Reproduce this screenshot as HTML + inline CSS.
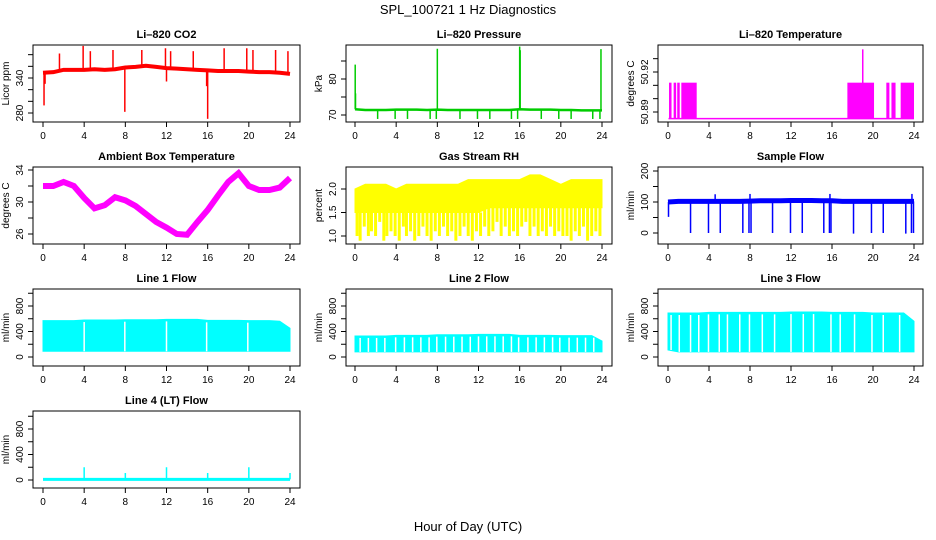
<!DOCTYPE html>
<html><head><meta charset="utf-8"><style>
body{margin:0;background:#fff}
svg{display:block;font-family:"Liberation Sans",sans-serif}
</style></head><body>
<svg id="c" width="936" height="540" viewBox="0 0 936 540">
<text x="468" y="14" text-anchor="middle" font-size="13">SPL_100721  1 Hz Diagnostics</text>
<text x="468" y="531" text-anchor="middle" font-size="13">Hour of Day (UTC)</text>
</svg>
<script>
// ---- data ----
const hours = [0,1,2,3,4,5,6,7,8,9,10,11,12,13,14,15,16,17,18,19,20,21,22,23,24];
const xTicks = [0,4,8,12,16,20,24];
// CO2
const co2Base = [349,350,354,354,354,355,354,355,358,359,361,359,357,356,355,354,353,352,352,352,351,350,350,349,347];
const co2SpikeHours = [1.6,3.9,4.6,6.8,9.6,11.9,12.4,14.6,17.6,19.8,20.4,22.6,23.8,0.1,7.95,16.0,12.0,15.9,0.2];
const co2SpikeVals = [382,395,386,388,388,391,386,386,391,391,388,388,386,293,282,270,334,326,330];
// Pressure
const presBase = [71.6,71.4,71.4,71.4,71.5,71.5,71.5,71.4,71.5,71.4,71.4,71.4,71.4,71.4,71.4,71.4,71.6,71.5,71.5,71.5,71.4,71.4,71.3,71.3,71.3];
const presSpikeHours = [0.02,0.05,8.0,16.0,16.05,23.9,2.2,3.9,5.1,7.3,7.9,10.2,11.9,13.1,15.2,15.8,18.1,19.8,21.0,23.1,23.8];
const presSpikeVals = [84,76,88.4,89,88,88.3,68.9,68.9,68.9,68.9,68.9,68.9,68.9,68.9,68.9,68.9,68.9,68.9,68.9,68.9,68.9];
// Li-820 temperature
const tempBaseVal = 50.885;
const tempOnStart = [0.1,0.55,0.9,1.3,17.5,21.3,21.8,22.7];
const tempOnEnd = [0.3,0.7,1.0,2.8,20.1,21.6,22.2,24.0];
const tempOnVal = [50.912,50.912,50.912,50.912,50.912,50.912,50.912,50.912];
const tempSpikeHours = [19.0];
const tempSpikeVals = [50.937];
// Ambient temperature
const ambBase = [32,32,32.5,32,30.5,29.2,29.6,30.6,30.2,29.5,28.5,27.5,26.8,26,25.9,27.5,29,30.8,32.5,33.6,32,31.5,31.5,31.8,33];
// RH
const rhHi = [2.0,2.1,2.1,2.1,2.0,2.1,2.1,2.1,2.1,2.1,2.1,2.2,2.2,2.2,2.2,2.2,2.2,2.3,2.3,2.2,2.1,2.2,2.2,2.2,2.2];
const rhSolidLo = [1.5,1.5,1.5,1.5,1.5,1.5,1.5,1.5,1.5,1.5,1.5,1.5,1.5,1.6,1.6,1.6,1.6,1.6,1.6,1.6,1.6,1.6,1.6,1.6,1.6];
const rhDipHours = [0.2,0.5,0.9,1.3,1.6,2.0,2.4,2.8,3.1,3.5,3.9,4.3,4.7,5.0,5.4,5.8,6.2,6.6,7.0,7.4,7.8,8.2,8.6,9.0,9.4,9.8,10.2,10.6,11.0,11.4,11.8,12.2,12.6,13.0,13.4,13.8,14.2,14.6,15.0,15.4,15.8,16.2,16.6,17.0,17.4,17.8,18.2,18.6,19.0,19.4,19.8,20.2,20.6,21.0,21.4,21.8,22.2,22.6,23.0,23.4,23.8];
const rhDipVals = [1.0,0.9,1.2,1.0,1.1,1.0,1.3,0.9,1.0,1.1,1.0,0.9,1.2,1.0,1.1,0.9,1.0,1.2,1.0,0.9,1.1,1.0,1.2,1.0,1.1,0.9,1.0,1.2,1.0,0.9,1.1,1.0,1.2,1.0,1.1,1.3,1.0,1.2,1.0,1.1,1.0,1.2,1.3,1.0,1.2,1.0,1.1,1.0,1.2,1.0,1.1,1.0,1.0,0.9,1.1,1.0,1.2,0.9,1.0,1.1,1.0];
// Sample flow
const sfBase = [100,102,102,102,102,102,102,102,103,104,104,104,105,105,105,104,104,102,102,102,102,102,102,102,102];
const sfSpikeHours = [2.2,3.95,5.1,7.3,7.9,8.1,10.2,11.95,13.1,15.2,15.75,15.9,18.1,19.85,21.0,23.2,23.75,23.95,0.05,4.6,8.0,15.8,23.8];
const sfSpikeVals = [0,0,0,0,0,0,0,0,0,0,0,0,-2,0,0,-2,0,0,52,125,126,126,126];
// Line flows
const l1Hi = [570,570,570,570,580,580,580,580,585,585,585,585,590,590,590,590,575,575,575,575,570,570,570,560,450];
const l1Lo = [90,90,90,90,90,90,90,90,90,90,90,90,90,90,90,90,90,90,90,90,90,90,90,90,90];
const l1Gaps = [4.0,7.95,12.0,15.9,19.9];
const l2Hi = [330,330,330,330,340,340,340,340,350,350,350,350,355,355,355,355,340,340,340,340,335,335,335,335,250];
const l2Lo = [80,80,80,80,80,80,80,80,80,80,80,80,80,80,80,80,80,80,80,80,80,80,80,80,80];
const l2Gaps = [0.5,1.3,2.1,2.9,3.95,4.8,5.6,6.4,7.2,7.95,8.8,9.6,10.4,11.2,12.0,12.8,13.6,14.4,15.2,15.9,16.8,17.6,18.4,19.2,19.9,20.8,21.6,22.4,23.2];
const l3Hi = [690,690,690,690,700,700,700,700,700,700,700,700,705,705,705,705,700,700,700,700,690,690,690,690,560];
const l3Lo = [110,80,80,80,80,80,80,80,80,80,80,80,80,80,80,80,80,80,80,80,80,80,80,80,80];
const l3Gaps = [0.3,1.1,2.2,3.0,3.95,5.0,5.8,7.0,7.95,9.2,10.4,12.0,13.2,14.2,15.9,16.8,18.2,19.9,21.0,22.6];
const l4Base = [10,10,10,10,10,10,10,10,10,10,10,10,10,10,10,10,10,10,10,10,10,10,10,10,10];
const l4SpikeHours = [4.0,8.0,12.0,16.0,20.0,24.0];
const l4SpikeVals = [200,110,200,110,200,110];

// ---- layout ----
const NS='http://www.w3.org/2000/svg';
const svg=document.getElementById('c');
const cols=[{l:33,r:300,x0:43,x24:290},{l:346,r:612,x0:355,x24:602},{l:658,r:923,x0:668,x24:914}];
function mk(tag,attrs,parent){const e=document.createElementNS(NS,tag);for(const k in attrs)e.setAttribute(k,attrs[k]);(parent||svg).appendChild(e);return e;}

function panel(col,row,title,name,ylab,ticks,labels,v1,p1,v2,p2){
  const c=cols[col]; const top=45+122*row; const bot=top+77;
  const g=mk('g',{});
  
  
  const X=h=>c.x0+(c.x24-c.x0)*h/24;
  const Y=v=>p1+(p2-p1)*(v-v1)/(v2-v1);
  const t=mk('text',{x:(c.l+c.r)/2,y:top-7,'text-anchor':'middle','font-size':11,'font-weight':'bold'},g);
  t.textContent=title;
  
  
  const marks=mk('g',{},g);
  
  
  const box=mk('rect',{x:c.l,y:top,width:c.r-c.l,height:bot-top,fill:'none',stroke:'#000','stroke-width':1},g);
  
  
  const ax=mk('g',{stroke:'#000','stroke-width':1},g);
  
  
  xTicks.forEach(h=>{mk('line',{x1:X(h),x2:X(h),y1:bot,y2:bot+5},ax);
    const tx=mk('text',{x:X(h),y:bot+17,'text-anchor':'middle','font-size':10,stroke:'none'},ax);tx.textContent=h;});
  const ay=mk('g',{stroke:'#000'},g);
  
  
  ticks.forEach((v,i)=>{const y=Y(v);mk('line',{x1:c.l-5,x2:c.l,y1:y,y2:y},ay);
    if(labels[i]){const tx=mk('text',{x:0,y:0,transform:`translate(${c.l-10},${y}) rotate(-90)`,'text-anchor':'middle','font-size':10,stroke:'none'},ay);tx.textContent=labels[i];}});
  const yl=mk('text',{transform:`translate(${c.l-24},${(top+bot)/2}) rotate(-90)`,'text-anchor':'middle','font-size':10},g);
  yl.textContent=ylab;
  
  
  return {X,Y,g:marks};
}
function band(p,hi,lo,color,name){
  let d='M'+hours.map((h,i)=>p.X(h)+','+p.Y(hi[i])).join('L');
  for(let i=hours.length-1;i>=0;i--)d+='L'+p.X(hours[i])+','+p.Y(lo[i]);
  const e=mk('path',{d:d+'Z',fill:color,stroke:color,'stroke-width':1},p.g);
  
  
}
function line(p,vals,color,w,name){
  const e=mk('polyline',{points:hours.map((h,i)=>p.X(h)+','+p.Y(vals[i])).join(' '),fill:'none',stroke:color,'stroke-width':w},p.g);
  
  
}
function spikes(p,hs,vs,base,color,name,w){
  hs.forEach((h,i)=>{
    const k=Math.min(24,Math.max(0,Math.round(h)));
    const b=Array.isArray(base)?base[k]:base;
    const e=mk('line',{x1:p.X(h),x2:p.X(h),y1:p.Y(b),y2:p.Y(vs[i]),stroke:color,'stroke-width':w||1.5},p.g);
    
    
  });
}
function gaps(p,hs,hi,lo,name){
  hs.forEach(h=>{const k=Math.round(h);
    const e=mk('line',{x1:p.X(h),x2:p.X(h),y1:p.Y(hi[k])+2,y2:p.Y(lo[k]),stroke:'#fff','stroke-width':1.5},p.g);
    
    
  });
}

// CO2
let p=panel(0,0,'Li\u2013820 CO2','co2','Licor ppm',[280,300,320,340,360,380],['280','','','340','',''],280,113,340,78);
line(p,co2Base,'#f00',4,'co2-line');
spikes(p,co2SpikeHours,co2SpikeVals,co2Base,'#f00','co2-spike');
// Pressure
p=panel(1,0,'Li\u2013820 Pressure','pressure','kPa',[70,75,80,85],['70','','80',''],70,115,80,79);
line(p,presBase,'#0c0',2.5,'pressure-line');
spikes(p,presSpikeHours,presSpikeVals,presBase,'#0c0','pressure-spike');
// Li temp
p=panel(2,0,'Li\u2013820 Temperature','licor-temp','degrees C',[50.89,50.90,50.91,50.92,50.93],['50.89','','','50.92',''],50.89,112,50.92,72);
mk('line',{x1:p.X(0.05),x2:p.X(24),y1:p.Y(tempBaseVal),y2:p.Y(tempBaseVal),stroke:'#f0f','stroke-width':1.5},p.g);
tempOnStart.forEach((s,i)=>{const r=mk('rect',{x:p.X(s),y:p.Y(tempOnVal[i]),width:Math.max(2.5,p.X(tempOnEnd[i])-p.X(s)),height:p.Y(tempBaseVal)-p.Y(tempOnVal[i]),fill:'#f0f'},p.g);
  
  });
spikes(p,tempSpikeHours,tempSpikeVals,tempBaseVal,'#f0f','licor-temp-spike');
// Ambient
p=panel(0,1,'Ambient Box Temperature','ambient-temp','degrees C',[26,28,30,32,34],['26','','30','','34'],26,234,34,170);
line(p,ambBase,'#f0f',6,'ambient-temp-line');
// RH
p=panel(1,1,'Gas Stream RH','rh','percent',[1.0,1.5,2.0],['1.0','1.5','2.0'],1.0,236,2.0,189);
band(p,rhHi,rhSolidLo,'#ff0','rh-band');
spikes(p,rhDipHours,rhDipVals,rhSolidLo,'#ff0','rh-dip',3);
// Sample flow
p=panel(2,1,'Sample Flow','sample-flow','ml/min',[0,50,100,150,200],['0','','100','','200'],0,233,100,202);
line(p,sfBase,'#00f',5,'sample-flow-line');
spikes(p,sfSpikeHours,sfSpikeVals,sfBase,'#00f','sample-flow-spike');
// Line flows
const flowTicks=[0,200,400,600,800,1000], flowLabs=['0','','400','','800',''];
p=panel(0,2,'Line 1 Flow','line1-flow','ml/min',flowTicks,flowLabs,0,357,800,306);
band(p,l1Hi,l1Lo,'#0ff','line1-band'); gaps(p,l1Gaps,l1Hi,l1Lo,'line1-gap');
p=panel(1,2,'Line 2 Flow','line2-flow','ml/min',flowTicks,flowLabs,0,357,800,306);
band(p,l2Hi,l2Lo,'#0ff','line2-band'); gaps(p,l2Gaps,l2Hi,l2Lo,'line2-gap');
p=panel(2,2,'Line 3 Flow','line3-flow','ml/min',flowTicks,flowLabs,0,357,800,306);
band(p,l3Hi,l3Lo,'#0ff','line3-band'); gaps(p,l3Gaps,l3Hi,l3Lo,'line3-gap');
p=panel(0,3,'Line 4 (LT) Flow','line4-flow','ml/min',flowTicks,flowLabs,0,480,800,429);
line(p,l4Base,'#0ff',3,'line4-line');
spikes(p,l4SpikeHours,l4SpikeVals,l4Base,'#0ff','line4-spike');
</script>
</body></html>
